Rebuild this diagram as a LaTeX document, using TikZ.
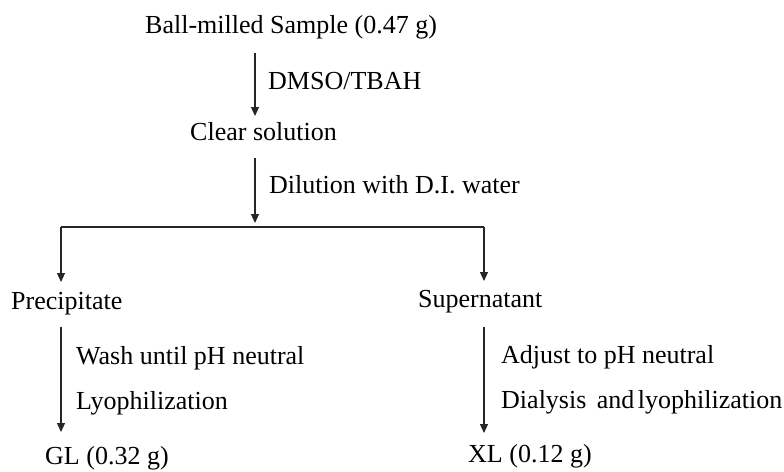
\documentclass[tikz,border=0pt]{standalone}
\usepackage{fontspec}
\setmainfont{Liberation Serif}
\usetikzlibrary{arrows.meta}
\tikzset{
  lbl/.style={anchor=base west, inner sep=0pt, font=\fontsize{26}{30}\selectfont, text=black},
  flow/.style={draw=black!85, line width=1.1pt, -{Triangle[length=9pt,width=8pt]}},
  plain/.style={draw=black!85, line width=1.1pt}
}
\begin{document}
\begin{tikzpicture}[x=1pt,y=-1pt]
\useasboundingbox (0,0) rectangle (784,471);
% texts
\node[lbl] (ball) at (145,33) {Ball-milled Sample (0.47 g)};
\node[lbl] (dmso) at (268,89) {DMSO/TBAH};
\node[lbl] (clear) at (190,140) {Clear solution};
\node[lbl] (dil) at (269,193) {Dilution with D.I. water};
\node[lbl] (prec) at (11,309) {Precipitate};
\node[lbl] (sup) at (418,307) {Supernatant};
\node[lbl] (wash) at (76,364) {Wash until pH neutral};
\node[lbl] (lyo) at (76,409) {Lyophilization};
\node[lbl] (adj) at (501,363) {Adjust to pH neutral};
\node[lbl] (dia) at (501,408) {Dialysis\hspace{4pt} and\hspace{-3pt} lyophilization};
\node[lbl] (gl) at (45,464) {GL (0.32 g)};
\node[lbl] (xl) at (468,462) {XL (0.12 g)};
% connector points
\coordinate (a1s) at (255,53);
\coordinate (a1e) at (255,116);
\coordinate (a2s) at (255,158);
\coordinate (a2e) at (255,223);
\coordinate (hl) at (61,227);
\coordinate (hr) at (484,227);
\coordinate (pl) at (61,282);
\coordinate (pr) at (484,281);
\coordinate (a3s) at (61,327);
\coordinate (a3e) at (61,432);
\coordinate (a4s) at (484,327);
\coordinate (a4e) at (484,433);
% connectors
\draw[flow] (a1s) -- (a1e);
\draw[flow] (a2s) -- (a2e);
\draw[plain] (hl) -- (hr);
\draw[flow] (hl) -- (pl);
\draw[flow] (hr) -- (pr);
\draw[flow] (a3s) -- (a3e);
\draw[flow] (a4s) -- (a4e);
\end{tikzpicture}
\end{document}
